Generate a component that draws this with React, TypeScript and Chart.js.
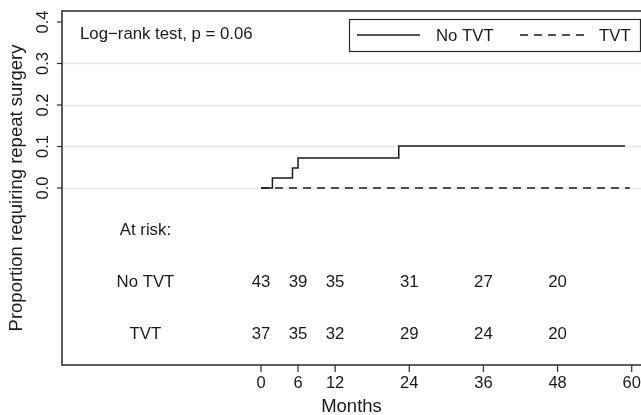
import React, { useEffect, useRef } from "react";
import { Chart, registerables } from "chart.js";

Chart.register(...registerables);

// ---- data ----
const noTvtTimes = [0, 1.85, 5.1, 6.0, 22.3, 58.9];
const noTvtValues = [0, 0.024, 0.048, 0.072, 0.101, 0.101];
const tvtTimes = [0, 59.7];
const tvtValues = [0, 0];
const seriesNames = ["No TVT", "TVT"];
const xTickValues = [0, 6, 12, 24, 36, 48, 60];
const yTickValues = [0.0, 0.1, 0.2, 0.3, 0.4];
const yGridValues = [0.0, 0.1, 0.2, 0.3];
const riskTimes = [0, 6, 12, 24, 36, 48];
const riskNoTvt = [43, 39, 35, 31, 27, 20];
const riskTvt = [37, 35, 32, 29, 24, 20];
const riskHeader = "At risk:";
const pValueText = "Log\u2212rank test, p = 0.06";
const xTitle = "Months";
const yTitle = "Proportion requiring repeat surgery";

const FONT = '"Liberation Sans", Arial, Helvetica, sans-serif';
const INK = "#1a1a1a";

const decorPlugin = {
  id: "decor",
  beforeDatasetsDraw(chart: any) {
    const { ctx, chartArea, scales } = chart;
    const y = scales.y;
    ctx.save();
    ctx.strokeStyle = "#e6e6e6";
    ctx.lineWidth = 1.5;
    for (const v of yGridValues) {
      const py = Math.round(y.getPixelForValue(v)) + 0.5;
      ctx.beginPath();
      ctx.moveTo(chartArea.left, py);
      ctx.lineTo(chartArea.right, py);
      ctx.stroke();
    }
    ctx.restore();
  },
  afterDraw(chart: any) {
    const { ctx, chartArea, scales } = chart;
    const x = scales.x;
    const y = scales.y;
    const L = chartArea.left;
    const T = chartArea.top;
    const B = chartArea.bottom;
    const R = chartArea.right;
    ctx.save();

    // box (right side runs past the canvas)
    ctx.strokeStyle = "#2a2a2a";
    ctx.lineWidth = 1.5;
    ctx.beginPath();
    ctx.moveTo(R + 2, T);
    ctx.lineTo(L, T);
    ctx.lineTo(L, B);
    ctx.lineTo(R + 2, B);
    ctx.stroke();

    // y ticks + rotated labels
    ctx.fillStyle = INK;
    ctx.font = `16.5px ${FONT}`;
    ctx.textAlign = "center";
    ctx.textBaseline = "middle";
    ctx.lineWidth = 1.2;
    for (const v of yTickValues) {
      const py = y.getPixelForValue(v);
      ctx.beginPath();
      ctx.moveTo(L, py);
      ctx.lineTo(L - 5, py);
      ctx.stroke();
      ctx.save();
      ctx.translate(L - 19, py);
      ctx.rotate(-Math.PI / 2);
      ctx.fillText(v.toFixed(1), 0, 0);
      ctx.restore();
    }

    // x ticks + labels
    for (const v of xTickValues) {
      const px = x.getPixelForValue(v);
      ctx.beginPath();
      ctx.moveTo(px, B);
      ctx.lineTo(px, B + 7);
      ctx.stroke();
      ctx.fillText(String(v), px, B + 18);
    }

    // axis titles
    ctx.font = `18.5px ${FONT}`;
    ctx.fillText(xTitle, (L + R) / 2, B + 42);
    ctx.save();
    ctx.translate(17, (T + B) / 2);
    ctx.rotate(-Math.PI / 2);
    ctx.fillText(yTitle, 0, 0);
    ctx.restore();

    // log-rank text
    ctx.font = `16.8px ${FONT}`;
    ctx.textAlign = "left";
    ctx.fillText(pValueText, L + 18, T + 23);

    // legend
    const lgL = 349, lgT = 19, lgR = 640, lgB = 51;
    ctx.lineWidth = 1.2;
    ctx.strokeStyle = "#2a2a2a";
    ctx.strokeRect(lgL + 0.5, lgT + 0.5, lgR - lgL, lgB - lgT);
    const ly = (lgT + lgB) / 2;
    const ds = chart.data.datasets;
    ctx.lineWidth = 1.5;
    ctx.strokeStyle = ds[0].borderColor;
    ctx.setLineDash([]);
    ctx.beginPath();
    ctx.moveTo(357, ly);
    ctx.lineTo(420, ly);
    ctx.stroke();
    ctx.fillText(ds[0].label, 436, ly + 1);
    ctx.strokeStyle = ds[1].borderColor;
    ctx.setLineDash(ds[1].borderDash);
    ctx.beginPath();
    ctx.moveTo(520, ly);
    ctx.lineTo(584, ly);
    ctx.stroke();
    ctx.setLineDash([]);
    ctx.fillText(ds[1].label, 599, ly + 1);

    // at-risk table
    ctx.textAlign = "center";
    const labelX = x.getPixelForValue(-18.7);
    const rowHeader = y.getPixelForValue(-0.103);
    const row1 = y.getPixelForValue(-0.228);
    const row2 = y.getPixelForValue(-0.353);
    ctx.fillText(riskHeader, labelX, rowHeader);
    ctx.fillText(seriesNames[0], labelX, row1);
    ctx.fillText(seriesNames[1], labelX, row2);
    riskTimes.forEach((t, i) => {
      const px = x.getPixelForValue(t);
      ctx.fillText(String(riskNoTvt[i]), px, row1);
      ctx.fillText(String(riskTvt[i]), px, row2);
    });

    ctx.restore();
  },
};

export default function App() {
  const canvasRef = useRef<HTMLCanvasElement | null>(null);

  useEffect(() => {
    const canvas = canvasRef.current;
    if (!canvas) return;
    const chart = new Chart(canvas, {
      type: "line",
      data: {
        datasets: [
          {
            label: seriesNames[0],
            data: noTvtTimes.map((t, i) => ({ x: t, y: noTvtValues[i] })),
            stepped: true,
            borderColor: "#1a1a1a",
            borderWidth: 1.5,
            pointRadius: 0,
            fill: false,
          },
          {
            label: seriesNames[1],
            data: tvtTimes.map((t, i) => ({ x: t, y: tvtValues[i] })),
            borderColor: "#1a1a1a",
            borderWidth: 1.5,
            borderDash: [8, 6],
            pointRadius: 0,
            fill: false,
          },
        ],
      },
      options: {
        animation: false,
        responsive: false,
        devicePixelRatio: 1,
        layout: { padding: { left: 62, top: 11, right: 0, bottom: 50 } },
        scales: {
          x: { type: "linear", min: -32.2, max: 61.5, display: false },
          y: { type: "linear", min: -0.4265, max: 0.4265, display: false },
        },
        plugins: {
          legend: { display: false },
          tooltip: { enabled: false },
        },
      },
      plugins: [decorPlugin],
    } as any);
    return () => chart.destroy();
  }, []);

  return (
    <div style={{ position: "absolute", left: 0, top: 0, width: 641, height: 415, background: "#fff" }}>
      <canvas ref={canvasRef} width={641} height={415} style={{ display: "block" }} />
    </div>
  );
}
